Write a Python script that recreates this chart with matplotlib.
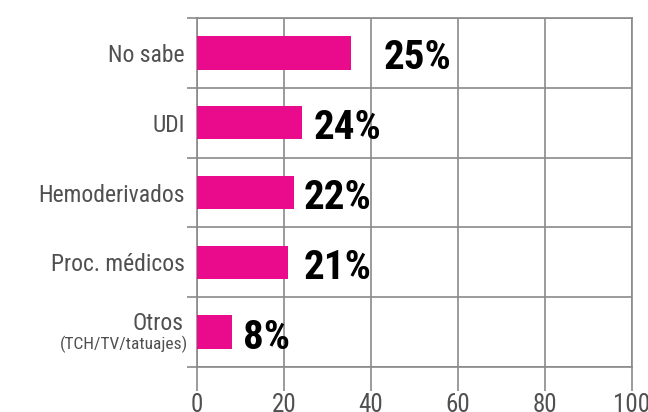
import matplotlib
matplotlib.use("Agg")
from matplotlib import pyplot as plt
from matplotlib.transforms import blended_transform_factory

plt.rcParams['font.family'] = ['Roboto Condensed', 'DejaVu Sans']

##### Data #####
categories = ["No sabe", "UDI", "Hemoderivados", "Proc. médicos", "Otros"]
sub_label = "(TCH/TV/tatuajes)"
values = [35.3, 24.2, 22.2, 21.0, 8.0]          # bar lengths as drawn
pct_labels = ["25%", "24%", "22%", "21%", "8%"]
pct_x = [42.8, 26.8, 24.5, 24.5, 10.6]          # where the big labels sit
xticks = [0, 20, 40, 60, 80, 100]

bar_color = "#EA0A8C"
grid_color = "#8a8a8a"
text_color = "#505050"

fig = plt.figure(figsize=(6.48, 4.12), dpi=100)
ax = fig.add_axes([197/648, 1 - 367/412, 435/648, 349/412])

y = list(range(len(categories)))
ax.barh(y, values, height=0.48, color=bar_color, zorder=3)

for yi, lab, xp in zip(y, pct_labels, pct_x):
    ax.text(xp, yi + 0.08, lab, fontsize=29.5, fontweight="bold", color="black",
            va="center", ha="left", zorder=4)

ax.set_xlim(0, 100)
ax.set_ylim(len(categories) - 0.5, -0.5)

# x ticks / vertical grid
ax.set_xticks(xticks)
ax.set_xticklabels([str(v) for v in xticks], fontsize=18, color=text_color)
ax.tick_params(axis="x", length=17, width=1.2, color=grid_color, pad=2)
ax.grid(axis="x", color=grid_color, linewidth=1.2, zorder=0)

# y: labels at centers, boundary lines as minor ticks/grid
ax.set_yticks(y)
ylabels = categories[:-1] + [""]
ax.set_yticklabels(ylabels, fontsize=17, color=text_color)
ax.tick_params(axis="y", which="major", length=0, pad=9)
bounds = [i - 0.5 for i in range(len(categories) + 1)]
ax.set_yticks(bounds, minor=True)
ax.tick_params(axis="y", which="minor", length=7, width=1.2, color=grid_color)
ax.grid(axis="y", which="minor", color=grid_color, linewidth=1.2, zorder=0)

trans = blended_transform_factory(ax.transAxes, ax.transData)
ax.text(-0.032, 4 - 0.12, categories[-1], fontsize=17, color=text_color,
        ha="right", va="center", transform=trans)
ax.text(-0.02, 4 + 0.17, sub_label, fontsize=12.5, color=text_color,
        ha="right", va="center", transform=trans)

for s in ax.spines.values():
    s.set_color(grid_color)
    s.set_linewidth(1.2)

fig.savefig("out.png", dpi=100)
